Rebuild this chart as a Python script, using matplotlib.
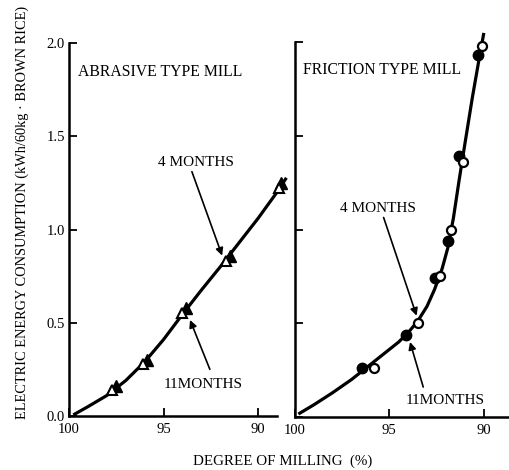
import matplotlib.pyplot as plt

plt.rcParams['font.family'] = ['Liberation Serif', 'DejaVu Serif']

# abrasive type mill (triangles)
abr_curve_x = [99.7, 99.0, 98.0, 97.0, 96.0, 95.0, 94.0, 93.0, 92.0, 91.0, 90.0, 89.0, 88.55]
abr_curve_y = [0.01, 0.05, 0.11, 0.19, 0.29, 0.41, 0.545, 0.675, 0.80, 0.93, 1.06, 1.20, 1.27]
abr_x_4m = [97.7, 96.1, 94.0, 91.7, 88.9]
abr_y_4m = [0.14, 0.28, 0.55, 0.83, 1.22]
abr_x_11m = [97.5, 95.9, 93.8, 91.5, 88.8]
abr_y_11m = [0.16, 0.30, 0.58, 0.86, 1.25]

# friction type mill (circles)
fri_curve_x = [99.75, 99.0, 98.0, 97.0, 96.0, 95.0, 94.5, 94.0, 93.5, 93.0, 92.6, 92.2,
               91.9, 91.6, 91.3, 91.0, 90.6, 90.2, 90.0]
fri_curve_y = [0.02, 0.065, 0.13, 0.20, 0.28, 0.36, 0.40, 0.45, 0.51, 0.59, 0.68, 0.79,
               0.90, 1.06, 1.26, 1.45, 1.70, 1.93, 2.04]
fri_x_4m = [95.8, 93.5, 92.3, 91.7, 91.1, 90.1]
fri_y_4m = [0.26, 0.50, 0.75, 1.00, 1.36, 1.98]
fri_x_11m = [96.45, 94.1, 92.6, 91.9, 91.3, 90.3]
fri_y_11m = [0.26, 0.44, 0.74, 0.94, 1.39, 1.93]

xticks = [100, 95, 90]
yticks = [0.0, 0.5, 1.0, 1.5, 2.0]

fig = plt.figure(figsize=(5.09, 4.70), dpi=100)
ax1 = fig.add_axes([69/509, 54/470, 208/509, 373/470])
ax2 = fig.add_axes([295/509, 53/470, 214/509, 375/470])


def style(ax, xmin):
    ax.set_xlim(100, xmin)
    ax.set_ylim(0, 2.0)
    for s in ['top', 'right']:
        ax.spines[s].set_visible(False)
    for s in ['left', 'bottom']:
        ax.spines[s].set_linewidth(1.8)
    ax.set_xticks(xticks)
    ax.set_yticks(yticks)
    ax.tick_params(direction='in', length=6, width=1.3, labelsize=10.5)
    ax.tick_params(axis='x', pad=5)
    ax.tick_params(axis='y', pad=3)


style(ax1, 89.0)
style(ax2, 88.65)
ax1.set_yticklabels([f'{v:.1f}' for v in yticks])
ax2.set_yticklabels([])

kw = dict(color='black', clip_on=False, zorder=3)
ax1.plot(abr_curve_x, abr_curve_y, lw=2.3, solid_joinstyle='round', **kw)
ax1.plot(abr_x_11m, abr_y_11m, '^', ms=8, mfc='black', mec='black', **kw)
ax1.plot(abr_x_4m, abr_y_4m, '^', ms=7, mfc='white', mec='black', mew=1.5, **kw)

ax2.plot(fri_curve_x, fri_curve_y, lw=2.3, solid_joinstyle='round', **kw)
ax2.plot(fri_x_11m, fri_y_11m, 'o', ms=7.5, mfc='black', mec='black', **kw)
ax2.plot(fri_x_4m, fri_y_4m, 'o', ms=6.5, mfc='white', mec='black', mew=1.6, **kw)

arr = dict(arrowstyle='-|>', color='black', lw=1.2, mutation_scale=11, shrinkA=0, shrinkB=0)
tsize = 11

ax1.text(99.55, 1.845, 'ABRASIVE TYPE MILL', fontsize=11.3, ha='left', va='center')
ax1.text(93.3, 1.36, '4 MONTHS', fontsize=tsize, ha='center', va='center')
ax1.annotate('', xy=(91.9, 0.86), xytext=(93.5, 1.31), arrowprops=arr)
ax1.text(92.9, 0.17, '11MONTHS', fontsize=tsize, ha='center', va='center')
ax1.annotate('', xy=(93.6, 0.515), xytext=(92.55, 0.25), arrowprops=arr)

ax2.text(99.6, 1.85, 'FRICTION TYPE MILL', fontsize=11.3, ha='left', va='center')
ax2.text(95.6, 1.11, '4 MONTHS', fontsize=tsize, ha='center', va='center')
ax2.annotate('', xy=(93.55, 0.54), xytext=(95.3, 1.064), arrowprops=arr)
ax2.text(92.06, 0.086, '11MONTHS', fontsize=tsize, ha='center', va='center')
ax2.annotate('', xy=(93.9, 0.40), xytext=(93.2, 0.16), arrowprops=arr)

fig.text(22/509, 0.547, 'ELECTRIC ENERGY CONSUMPTION (kWh/60kg · BROWN RICE)',
         rotation=90, ha='center', va='center', fontsize=10.4)
fig.text(283/509, 9/470, 'DEGREE OF MILLING  (%)', ha='center', va='center', fontsize=10.8)

fig.savefig('out.png', dpi=100)
